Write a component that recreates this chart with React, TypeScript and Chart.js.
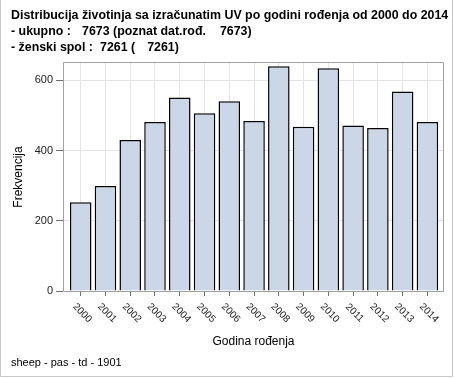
import React, { useEffect, useRef } from 'react';
import { Chart, registerables } from 'chart.js';

Chart.register(...registerables);

const years = ['2000', '2001', '2002', '2003', '2004', '2005', '2006', '2007', '2008', '2009', '2010', '2011', '2012', '2013', '2014'];
const counts = [253, 299, 430, 481, 551, 506, 540, 484, 640, 468, 634, 471, 464, 568, 481];
const yTickValues = [0, 200, 400, 600];
const yMax = 652;

const titleLine1 = ['Distribucija životinja sa izračunatim UV po godini rođenja od 2000 do 2014'];
const titleLine2 = ['- ukupno :', '7673 (poznat dat.rođ.', '7673)'];
const titleLine3 = ['- ženski spol :', '7261 (', '7261)'];
const xTitle = 'Godina rođenja';
const yTitle = 'Frekvencija';
const footnote = 'sheep - pas - td - 1901';

const FONT = '"Liberation Sans", Arial, sans-serif';

const overlay = {
  id: 'overlay',
  afterDraw(chart: any) {
    const ctx = chart.ctx as CanvasRenderingContext2D;
    const { left, right, top, bottom } = chart.chartArea;
    const xs = chart.scales.x;
    ctx.save();

    // plot frame
    ctx.strokeStyle = '#a0a0a0';
    ctx.lineWidth = 1;
    ctx.beginPath();
    ctx.moveTo(left + 0.5, top + 0.5);
    ctx.lineTo(right - 0.5, top + 0.5);
    ctx.lineTo(right - 0.5, bottom + 0.5);
    ctx.moveTo(left + 0.5, top + 0.5);
    ctx.lineTo(left + 0.5, bottom + 0.5);
    ctx.lineTo(right - 0.5, bottom + 0.5);
    ctx.stroke();

    // outer border
    ctx.strokeStyle = '#c8c8c8';
    ctx.beginPath();
    ctx.moveTo(0.5, 0);
    ctx.lineTo(0.5, 376.5);
    ctx.lineTo(452.5, 376.5);
    ctx.lineTo(452.5, 0);
    ctx.stroke();

    // titles
    ctx.fillStyle = '#000';
    ctx.textAlign = 'left';
    ctx.textBaseline = 'alphabetic';
    ctx.font = `bold 12.4px ${FONT}`;
    ctx.fillText(titleLine1[0], 11, 19);
    ctx.fillText(titleLine2[0], 11, 35);
    ctx.fillText(titleLine2[1], 82, 35);
    ctx.fillText(titleLine2[2], 82 + ctx.measureText(titleLine2[1]).width + 14, 35);
    ctx.fillText(titleLine3[0], 11, 51);
    ctx.fillText(titleLine3[1], 100, 51);
    ctx.fillText(titleLine3[2], 100 + ctx.measureText(titleLine3[1]).width + 12, 51);

    // x tick labels, rotated 45 deg clockwise
    ctx.font = `10px ${FONT}`;
    ctx.fillStyle = '#222';
    ctx.textAlign = 'center';
    ctx.textBaseline = 'middle';
    years.forEach((lab, i) => {
      const x = xs.getPixelForValue(i);
      ctx.save();
      ctx.translate(x + 1.5, 313);
      ctx.rotate(Math.PI / 4);
      ctx.fillText(lab, 0, 0);
      ctx.restore();
    });

    // axis titles
    ctx.font = `12px ${FONT}`;
    ctx.fillStyle = '#000';
    ctx.textAlign = 'center';
    ctx.textBaseline = 'alphabetic';
    ctx.fillText(xTitle, (left + right) / 2, 345);
    ctx.save();
    ctx.translate(22, 177);
    ctx.rotate(-Math.PI / 2);
    ctx.fillText(yTitle, 0, 0);
    ctx.restore();

    // footnote
    ctx.font = `11px ${FONT}`;
    ctx.textAlign = 'left';
    ctx.fillText(footnote, 11, 366);

    ctx.restore();
  },
};

export default function App() {
  const ref = useRef<HTMLCanvasElement | null>(null);

  useEffect(() => {
    document.body.style.margin = '0';
    const canvas = ref.current;
    if (!canvas) return;
    const chart = new Chart(canvas, {
      type: 'bar',
      data: {
        datasets: [
          {
            data: counts.map((v, i) => ({ x: i, y: v })),
            backgroundColor: '#cbd6e6',
            borderColor: '#000000',
            borderWidth: 1.5,
            categoryPercentage: 1,
            barPercentage: 0.87,
          },
        ],
      },
      options: {
        responsive: false,
        animation: false,
        devicePixelRatio: 1,
        events: [],
        layout: { padding: { left: 0, right: 10, top: 62, bottom: 0 } },
        plugins: {
          legend: { display: false },
          tooltip: { enabled: false },
          title: { display: false },
        },
        scales: {
          x: {
            type: 'linear',
            offset: false,
            min: -0.715,
            max: 14.67,
            afterBuildTicks: (scale: any) => {
              scale.ticks = years.map((_, i) => ({ value: i }));
            },
            afterFit: (scale: any) => {
              scale.height = 87;
            },
            ticks: { display: false },
            grid: { color: '#e4e4e4', tickColor: '#707070', tickLength: 5, offset: false },
            border: { display: false },
          },
          y: {
            type: 'linear',
            min: 0,
            max: yMax,
            afterBuildTicks: (scale: any) => {
              scale.ticks = yTickValues.map((v) => ({ value: v }));
            },
            afterFit: (scale: any) => {
              scale.width = 63;
            },
            ticks: { font: { family: FONT, size: 11 }, color: '#222', padding: 3 },
            grid: { color: '#e4e4e4', tickColor: '#707070', tickLength: 7 },
            border: { display: false },
          },
        },
      },
      plugins: [overlay],
    });
    return () => chart.destroy();
  }, []);

  return (
    <div style={{ width: 454, height: 378, background: '#fff' }}>
      <canvas ref={ref} width={454} height={378} style={{ width: 454, height: 378, display: 'block' }} />
    </div>
  );
}
